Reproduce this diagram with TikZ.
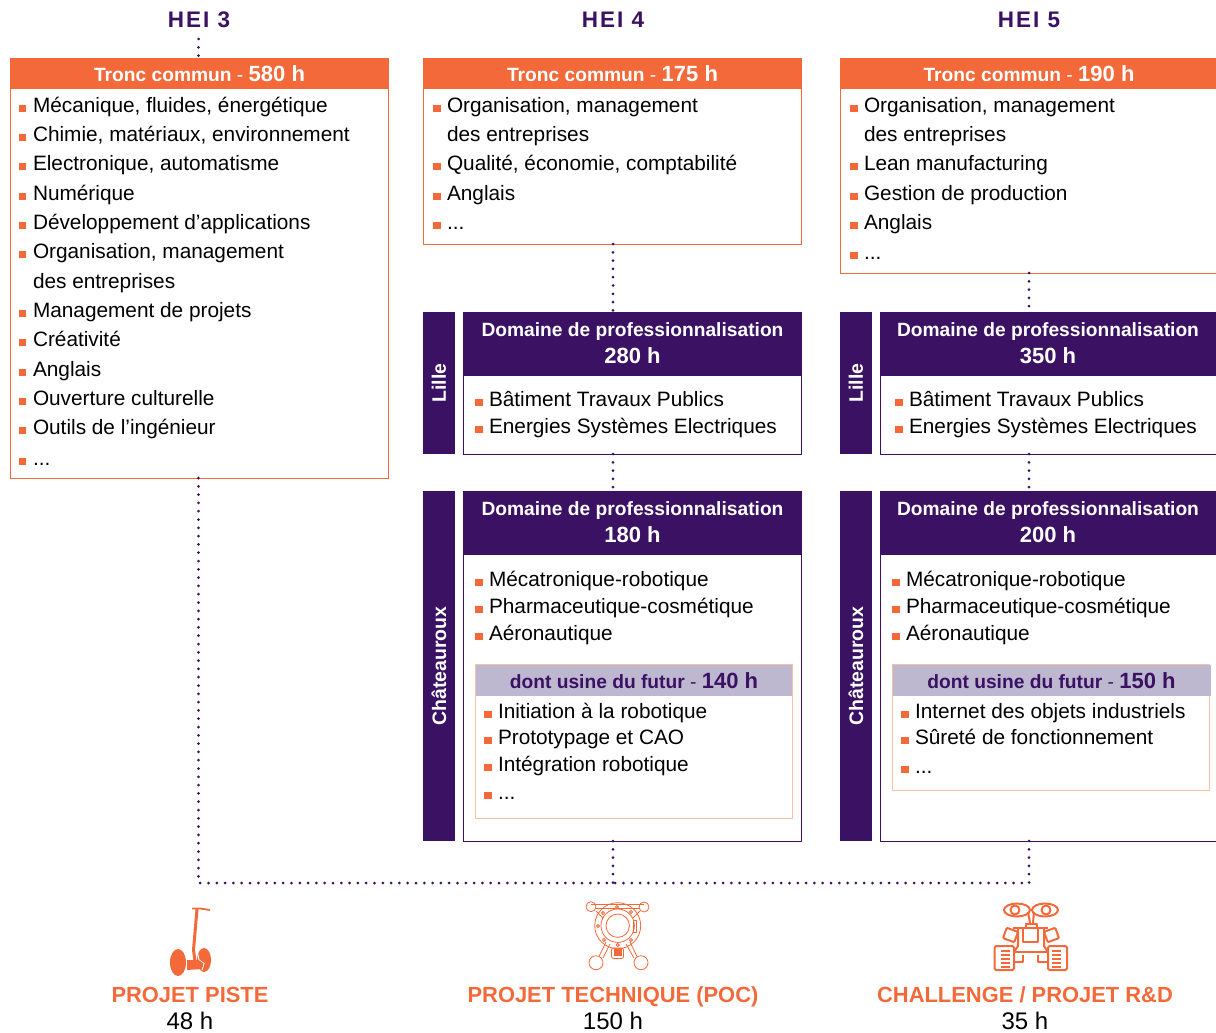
\documentclass[tikz,border=0pt]{standalone}
\usepackage{fontspec}
\setmainfont{Liberation Sans}
\usetikzlibrary{positioning}
\definecolor{hei}{HTML}{F4693A}
\definecolor{violet}{HTML}{3B1163}
\definecolor{lavande}{HTML}{BDB7D0}
\definecolor{saumon}{HTML}{F9BFA9}
\newcommand{\puce}{\makebox[14pt][l]{\textcolor{hei}{\rule[0.5pt]{7.5pt}{7pt}}}}
\newcommand{\sanspuce}{\makebox[14pt][l]{}}
\newcommand{\heures}[1]{{\fontsize{22}{27}\selectfont #1 h}}
\tikzset{
  every node/.style={inner sep=0pt, outer sep=0pt},
  item/.style={anchor=base west, font=\fontsize{20.8}{24}\selectfont},
  titre/.style={text=violet, font=\fontsize{22.5}{24}\bfseries\selectfont\addfontfeature{LetterSpace=9}},
  tronc/.style={anchor=north west, fill=hei, text=white, minimum height=31pt, font=\fontsize{19.2}{24}\bfseries\selectfont},
  corps/.style={anchor=north west, draw=hei, line width=1pt, minimum width=#1},
  domaine/.style={anchor=north west, fill=violet, text=white, minimum height=63pt, align=center, font=\fontsize{19.2}{27}\bfseries\selectfont},
  boite/.style={anchor=north west, draw=violet, line width=1pt},
  site/.style={anchor=north west, fill=violet, text=white, minimum width=32pt, font=\fontsize{19.5}{24}\bfseries\selectfont},
  usine/.style={anchor=north west, fill=lavande, text=violet, minimum height=31pt, font=\fontsize{19.2}{24}\bfseries\selectfont},
  cadre/.style={anchor=north west, draw=saumon, line width=1.5pt},
  liaison/.style={violet, line width=3pt, line cap=round, dash pattern=on 0pt off 8.3pt},
  projet/.style={anchor=base, text=hei, font=\fontsize{21.9}{24}\bfseries\selectfont},
  duree/.style={anchor=base, text=black, font=\fontsize{24}{24}\selectfont},
  trait/.style={draw=hei, line width=#1},
  trait/.default=1pt
}
\begin{document}
\begin{tikzpicture}[x=1pt, y=-1pt]
\useasboundingbox (0,0) rectangle (1216,1033);
% colonnes
\node[titre] (h3) at (199,20) {HEI 3};
\node[titre] (h4) at (613,20) {HEI 4};
\node[titre] (h5) at (1029,20) {HEI 5};
% troncs communs
\node[tronc, minimum width=379pt] (t3) at (10,58) {Tronc commun {\mdseries -} \heures{580}};
\node[corps=378pt, minimum height=389pt, below=0pt of t3] (c3) {};
\node[tronc, minimum width=379pt] (t4) at (423,58) {Tronc commun {\mdseries -} \heures{175}};
\node[corps=378pt, minimum height=155pt, below=0pt of t4] (c4) {};
\node[tronc, minimum width=378pt] (t5) at (840,58) {Tronc commun {\mdseries -} \heures{190}};
\node[corps=378pt, minimum height=184pt, below=0pt of t5] (c5) {};
\foreach \y/\txt [count=\i] in {112/{\puce Mécanique, fluides, énergétique},141/{\puce Chimie, matériaux, environnement},170/{\puce Electronique, automatisme},200/{\puce Numérique},229/{\puce Développement d’applications},258/{\puce Organisation, management},288/{\sanspuce des entreprises},317/{\puce Management de projets},346/{\puce Créativité},376/{\puce Anglais},405/{\puce Ouverture culturelle},434/{\puce Outils de l’ingénieur},465/{\puce ...}}
  \node[item] (la\i) at (19,\y) {\txt};
\foreach \y/\txt [count=\i] in {112/{\puce Organisation, management},141/{\sanspuce des entreprises},170/{\puce Qualité, économie, comptabilité},200/{\puce Anglais},229/{\puce ...}}
  \node[item] (lb\i) at (433,\y) {\txt};
\foreach \y/\txt [count=\i] in {112/{\puce Organisation, management},141/{\sanspuce des entreprises},170/{\puce Lean manufacturing},200/{\puce Gestion de production},229/{\puce Anglais},259/{\puce ...}}
  \node[item] (lc\i) at (850,\y) {\txt};
% HEI 4
\node[site, minimum height=142pt] (l4) at (423,312) {\rotatebox{90}{Lille}};
\node[domaine, minimum width=339pt] (d4) at (463,312) {Domaine de professionnalisation\\\heures{280}};
\node[boite, minimum width=338pt, minimum height=79pt, below=0pt of d4] (e4) {};
\foreach \y/\txt [count=\i] in {406/{\puce Bâtiment Travaux Publics},433/{\puce Energies Systèmes Electriques}}
  \node[item] (ld\i) at (475,\y) {\txt};
\node[site, minimum height=350pt] (s4) at (423,491) {\rotatebox{90}{Châteauroux}};
\node[domaine, minimum width=339pt] (g4) at (463,491) {Domaine de professionnalisation\\\heures{180}};
\node[boite, minimum width=338pt, minimum height=287pt, below=0pt of g4] (i4) {};
\foreach \y/\txt [count=\i] in {586/{\puce Mécatronique-robotique},613/{\puce Pharmaceutique-cosmétique},640/{\puce Aéronautique}}
  \node[item] (le\i) at (475,\y) {\txt};
\node[cadre, minimum width=317pt, minimum height=154pt] (k4) at (475.5,664.5) {};
\node[usine, minimum width=316pt] (u4) at (476,665) {dont usine du futur {\mdseries -} \heures{140}};
\foreach \y/\txt [count=\i] in {718/{\puce Initiation à la robotique},744/{\puce Prototypage et CAO},771/{\puce Intégration robotique},799/{\puce ...}}
  \node[item] (lf\i) at (484,\y) {\txt};
% HEI 5
\node[site, minimum height=142pt] (l5) at (840,312) {\rotatebox{90}{Lille}};
\node[domaine, minimum width=336pt] (d5) at (880,312) {Domaine de professionnalisation\\\heures{350}};
\node[boite, minimum width=338pt, minimum height=79pt, below=0pt of d5.south west, anchor=north west] (e5) {};
\foreach \y/\txt [count=\i] in {406/{\puce Bâtiment Travaux Publics},433/{\puce Energies Systèmes Electriques}}
  \node[item] (lg\i) at (895,\y) {\txt};
\node[site, minimum height=350pt] (s5) at (840,491) {\rotatebox{90}{Châteauroux}};
\node[domaine, minimum width=336pt] (g5) at (880,491) {Domaine de professionnalisation\\\heures{200}};
\node[boite, minimum width=338pt, minimum height=287pt, below=0pt of g5.south west, anchor=north west] (i5) {};
\foreach \y/\txt [count=\i] in {586/{\puce Mécatronique-robotique},613/{\puce Pharmaceutique-cosmétique},640/{\puce Aéronautique}}
  \node[item] (lh\i) at (892,\y) {\txt};
\node[cadre, minimum width=317pt, minimum height=126pt] (k5) at (892.5,664.5) {};
\node[usine, minimum width=318pt] (u5) at (892.5,665) {dont usine du futur {\mdseries -} \heures{150}};
\foreach \y/\txt [count=\i] in {718/{\puce Internet des objets industriels},744/{\puce Sûreté de fonctionnement},773/{\puce ...}}
  \node[item] (li\i) at (901,\y) {\txt};
% liaisons
\coordinate (j3) at (198.5,883);
\coordinate (j4) at (613,883);
\coordinate (j5) at (1029,883);
\coordinate (o3) at (198.5,39);
\draw[liaison] (o3) -- (t3.north -| j3);
\draw[liaison] (c3.south -| j3) -- (j3) -- (j5);
\draw[liaison] (c4.south -| j4) -- (d4.north -| j4);
\draw[liaison] (e4.south -| j4) -- (g4.north -| j4);
\draw[liaison] (i4.south -| j4) -- (j4);
\draw[liaison] (c5.south -| j5) -- (d5.north -| j5);
\draw[liaison] (e5.south -| j5) -- (g5.north -| j5);
\draw[liaison] (i5.south -| j5) -- (j5);
% projets
\node[projet] (p3) at (190,1002) {PROJET PISTE};
\node[duree] (h48) at (190,1029.5) {48 h};
\node[projet] (p4) at (613,1002) {PROJET TECHNIQUE (POC)};
\node[duree] (h150) at (613,1029.5) {150 h};
\node[projet] (p5) at (1025,1002) {CHALLENGE / PROJET R\&D};
\node[duree] (h35) at (1025,1029.5) {35 h};
% gyropode
\fill[hei] (178,962.5) ellipse (8 and 13.5);
\fill[hei] (204,960) ellipse (7 and 12);
\draw[white, line width=1pt] (196.5,948) -- (199,960) -- (204,963.5) -- (202,970);
\fill[hei] (187,960) -- (198.5,960) -- (203.5,963.5) -- (201.5,969) -- (187,970) -- cycle;
\draw[trait=3pt] (197,909) -- (193.5,950) -- (195,961);
\draw[trait=1.8pt] (192,908.5) -- (200,908.5) -- (210,910);
% robot
\begin{scope}[trait=0.8pt]
\draw (617.7,925.7) circle (23);
\draw (617.7,925.7) circle (16.7);
\draw (617.7,925.7) circle (11.7);
\draw (591,906.7) circle (5);
\draw (644,907) circle (5);
\draw (596,962.7) circle (7);
\draw (641,962.7) circle (7);
\draw (591,904) -- (644,904);
\draw (596,911) -- (603,918);
\draw (595,908) -- (640,908);
\draw (640,911) -- (633,918);
\draw (599,956.5) -- (606,942);
\draw (603,958) -- (610,944);
\draw (637,956.5) -- (630,942);
\draw (634,958) -- (626,944);
\foreach \x/\y in {617/907,603/913,631/912,598/926,604/940,631/940,617.7/945}
  \draw (\x,\y) circle (1.5);
\draw (633,920) rectangle (636,932);
\draw[rounded corners=2pt] (611.5,948) rectangle (623.5,958.5);
\fill[hei] (614,949) rectangle (621.5,956);
\end{scope}
% petit robot
\begin{scope}[trait=2pt, line join=round]
\draw (1017,910) ellipse (13 and 6.5);
\draw (1045,910) ellipse (13 and 6.5);
\draw (1015,910) circle (4.5);
\draw (1046,910) circle (4.5);
\draw (1028,912) -- (1030,923);
\draw (1034,912) -- (1033,923);
\draw (1026,927) -- (1026,923.5) -- (1037,923.5) -- (1037,927);
\draw (1023,928) rectangle (1038,942);
\draw (1013,927.5) -- (1048,927.5);
\draw (1018,928) -- (1018,946) -- (1014,952);
\draw (1044,928) -- (1044,946) -- (1048,952);
\draw (1014,952) -- (1048,952);
\draw (1014,962) -- (1023,962) -- (1023,955);
\draw (1048,962) -- (1038,962) -- (1038,955);
\draw[rounded corners=1pt, rotate around={-20:(1010.5,935)}] (1004.5,929.5) rectangle (1016.5,940.5);
\draw[rounded corners=1pt, rotate around={20:(1051.5,935)}] (1045.5,929.5) rectangle (1057.5,940.5);
\draw[rounded corners=1.5pt] (994.5,946) rectangle (1014,970);
\draw[rounded corners=1.5pt] (1048,946) rectangle (1067,970);
\foreach \y in {951,955,959,963,967} {
  \draw[line width=1.2pt] (1001,\y) -- (1010,\y);
  \draw[line width=1.2pt] (1052,\y) -- (1061,\y);
}
\end{scope}
\end{tikzpicture}
\end{document}
